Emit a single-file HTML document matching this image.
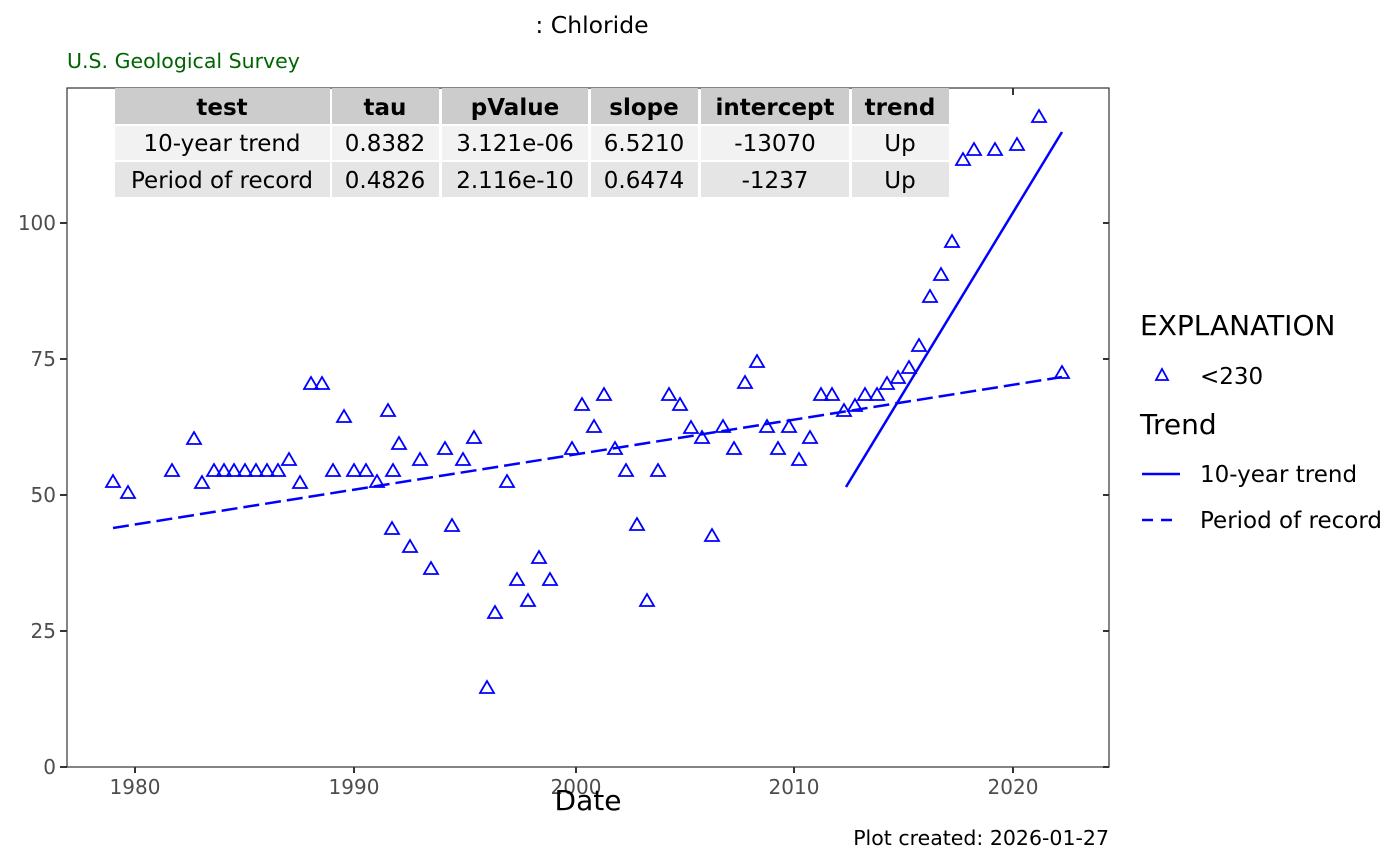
<!DOCTYPE html>
<html><head><meta charset="utf-8"><style>
body{margin:0;background:#fff}
svg{display:block;font-family:"DejaVu Sans","Liberation Sans",sans-serif}
</style></head><body>
<svg id="s" width="1400" height="866" xmlns="http://www.w3.org/2000/svg">
<rect width="1400" height="866" fill="#fff"/>
<text x="592" y="33" font-size="23.5" text-anchor="middle" fill="#000">: Chloride</text>
<text x="67" y="68" font-size="20.5" fill="#006400">U.S. Geological Survey</text>
<rect x="67" y="88" width="1042" height="679" fill="#fff" stroke="#333" stroke-width="1.2"/>
<g stroke="#333" stroke-width="2">
<line x1="60" y1="767" x2="67" y2="767"/><line x1="60" y1="631" x2="67" y2="631"/><line x1="60" y1="495" x2="67" y2="495"/><line x1="60" y1="359" x2="67" y2="359"/><line x1="60" y1="223" x2="67" y2="223"/>
<line x1="1103" y1="767" x2="1109" y2="767"/><line x1="1103" y1="631" x2="1109" y2="631"/><line x1="1103" y1="495" x2="1109" y2="495"/><line x1="1103" y1="359" x2="1109" y2="359"/><line x1="1103" y1="223" x2="1109" y2="223"/>
<line x1="135" y1="767" x2="135" y2="773"/><line x1="354" y1="767" x2="354" y2="773"/><line x1="576" y1="767" x2="576" y2="773"/><line x1="794" y1="767" x2="794" y2="773"/><line x1="1013" y1="767" x2="1013" y2="773"/>
<line x1="135" y1="88" x2="135" y2="95"/><line x1="354" y1="88" x2="354" y2="95"/><line x1="576" y1="88" x2="576" y2="95"/><line x1="794" y1="88" x2="794" y2="95"/><line x1="1013" y1="88" x2="1013" y2="95"/>
</g>
<g font-size="20" fill="#4d4d4d" text-anchor="end">
<text x="56" y="774">0</text><text x="56" y="638">25</text><text x="56" y="502">50</text><text x="56" y="366">75</text><text x="56" y="230">100</text>
</g>
<g font-size="20" fill="#4d4d4d" text-anchor="middle">
<text x="135" y="794">1980</text><text x="354" y="794">1990</text><text x="576" y="794">2000</text><text x="794" y="794">2010</text><text x="1013" y="794">2020</text>
</g>
<text x="588" y="810" font-size="28" text-anchor="middle" fill="#000">Date</text>
<text x="1109" y="845" font-size="20.5" text-anchor="end" fill="#000">Plot created: 2026-01-27</text>
<g>
<rect x="115" y="88" width="215" height="36" fill="#cccccc"/><rect x="332" y="88" width="107" height="36" fill="#cccccc"/><rect x="442" y="88" width="146" height="36" fill="#cccccc"/><rect x="591" y="88" width="107" height="36" fill="#cccccc"/><rect x="701" y="88" width="148" height="36" fill="#cccccc"/><rect x="852" y="88" width="97" height="36" fill="#cccccc"/>
<rect x="115" y="126" width="215" height="34" fill="#f2f2f2"/><rect x="332" y="126" width="107" height="34" fill="#f2f2f2"/><rect x="442" y="126" width="146" height="34" fill="#f2f2f2"/><rect x="591" y="126" width="107" height="34" fill="#f2f2f2"/><rect x="701" y="126" width="148" height="34" fill="#f2f2f2"/><rect x="852" y="126" width="97" height="34" fill="#f2f2f2"/>
<rect x="115" y="162" width="215" height="35" fill="#e5e5e5"/><rect x="332" y="162" width="107" height="35" fill="#e5e5e5"/><rect x="442" y="162" width="146" height="35" fill="#e5e5e5"/><rect x="591" y="162" width="107" height="35" fill="#e5e5e5"/><rect x="701" y="162" width="148" height="35" fill="#e5e5e5"/><rect x="852" y="162" width="97" height="35" fill="#e5e5e5"/>
</g>
<g font-size="23" text-anchor="middle" fill="#000">
<g font-weight="bold"><text x="222" y="115">test</text><text x="385" y="115">tau</text><text x="515" y="115">pValue</text><text x="644" y="115">slope</text><text x="775" y="115">intercept</text><text x="900" y="115">trend</text></g>
<text x="222" y="151">10-year trend</text><text x="385" y="151">0.8382</text><text x="515" y="151">3.121e-06</text><text x="644" y="151">6.5210</text><text x="775" y="151">-13070</text><text x="900" y="151">Up</text>
<text x="222" y="188">Period of record</text><text x="385" y="188">0.4826</text><text x="515" y="188">2.116e-10</text><text x="644" y="188">0.6474</text><text x="775" y="188">-1237</text><text x="900" y="188">Up</text>
</g>
<line x1="113" y1="528" x2="1062" y2="377" stroke="#0000ff" stroke-width="2.5" stroke-dasharray="16,6"/>
<line x1="846" y1="487" x2="1062" y2="132" stroke="#0000ff" stroke-width="2.5"/>
<g id="pts" fill="none" stroke="#0000ff" stroke-width="1.8"></g>
<text x="1140" y="335" font-size="28" fill="#000">EXPLANATION</text>
<polygon points="1156,380 1168,380 1162,369" fill="none" stroke="#0000ff" stroke-width="1.8"/>
<text x="1200" y="384" font-size="23" fill="#000">&lt;230</text>
<text x="1140" y="434" font-size="28" fill="#000">Trend</text>
<line x1="1142" y1="474" x2="1180" y2="474" stroke="#0000ff" stroke-width="2.5"/>
<text x="1200" y="482" font-size="23" fill="#000">10-year trend</text>
<line x1="1142" y1="520" x2="1180" y2="520" stroke="#0000ff" stroke-width="2.5" stroke-dasharray="11,8"/>
<text x="1200" y="528" font-size="23" fill="#000">Period of record</text>
</svg>
<script>
var p=[[113,482],[128,493],[172,471],[194,439],[202,483],[214,471],[224,471],[234,471],[245,471],[256,471],[267,471],[278,471],[289,460],[300,483],[311,384],[322,384],[333,471],[344,417],[354,471],[366,471],[377,482],[388,411],[392,529],[393,471],[399,444],[410,547],[420,460],[431,569],[445,449],[452,526],[463,460],[474,438],[487,688],[495,613],[507,482],[517,580],[528,601],[539,558],[550,580],[572,449],[582,405],[594,427],[604,395],[615,449],[626,471],[637,525],[647,601],[658,471],[669,395],[680,405],[691,428],[702,438],[712,536],[723,427],[734,449],[745,383],[757,362],[767,427],[778,449],[789,427],[799,460],[810,438],[821,395],[832,395],[844,411],[855,406],[865,395],[877,395],[887,384],[898,378],[909,368],[919,346],[930,297],[941,275],[952,242],[963,160],[974,150],[995,150],[1017,145],[1039,117],[1062,373]];
var g=document.getElementById('pts'),h='';
p.forEach(function(q){var x=q[0],y=q[1];h+='<polygon points="'+(x-7)+','+(y+5)+' '+(x+7)+','+(y+5)+' '+x+','+(y-7)+'"/>';});
g.innerHTML=h;
</script>
</body></html>
